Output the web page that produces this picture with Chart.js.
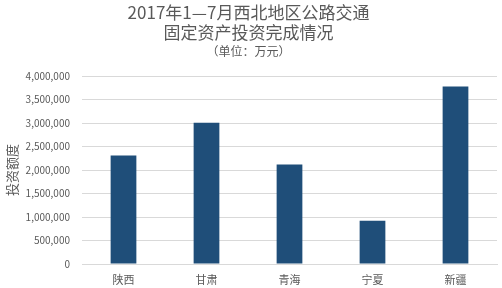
<!DOCTYPE html>
<html>
<head>
<meta charset="utf-8">
<script src="https://cdn.jsdelivr.net/npm/chart.js@4/dist/chart.umd.min.js"></script>
<style>
  html, body { margin:0; padding:0; background:#fff; }
  #wrap { width:502px; height:288px; position:relative; }
</style>
</head>
<body>
<div id="wrap"><canvas id="chart"></canvas></div>
<script>
// data (万元)
const regions = ['陕西', '甘肃', '青海', '宁夏', '新疆'];
const investment = [2310000, 3010000, 2120000, 920000, 3780000];
const titleLines = ['2017年1—7月西北地区公路交通', '固定资产投资完成情况'];
const unitText = '（单位：万元）';
const yTitle = '投资额度';

const FONT = "'Noto Sans CJK SC', 'Noto Sans', sans-serif";
const TEXT = '#595959';
const GRID = '#d9d9d9';

new Chart(document.getElementById('chart'), {
  type: 'bar',
  data: {
    labels: regions,
    datasets: [{
      data: investment,
      backgroundColor: '#1f4e79',
      barPercentage: 0.31,
      categoryPercentage: 1
    }]
  },
  options: {
    responsive: true,
    maintainAspectRatio: false,
    animation: false,
    layout: { padding: { left: 0, right: 5, top: 0, bottom: 0 } },
    plugins: {
      legend: { display: false },
      tooltip: { enabled: false },
      title: {
        display: true, text: titleLines, color: TEXT,
        font: { family: FONT, size: 17, weight: 'normal', lineHeight: 1.2 },
        padding: { top: 2, bottom: 0 }
      },
      subtitle: {
        display: true, text: unitText, color: TEXT,
        font: { family: FONT, size: 12, weight: 'normal', lineHeight: 1.2 },
        padding: { top: 1, bottom: 18 }
      }
    },
    scales: {
      x: {
        grid: { display: false, drawTicks: false },
        border: { color: GRID },
        ticks: { color: TEXT, font: { family: FONT, size: 11 }, padding: 9 },
        afterFit(s) { s.height = 24; }
      },
      y: {
        min: 0, max: 4000000,
        grid: { color: GRID, drawTicks: false },
        border: { display: false },
        ticks: {
          stepSize: 500000, color: TEXT, padding: 12,
          font: { family: FONT, size: 10 },
          callback: v => v.toLocaleString('en-US')
        },
        title: {
          display: true, text: yTitle, color: TEXT,
          font: { family: FONT, size: 13 }, padding: { top: 4, bottom: 0 }
        },
        afterFit(s) { s.width = 82; }
      }
    }
  }
});
</script>
</body>
</html>
